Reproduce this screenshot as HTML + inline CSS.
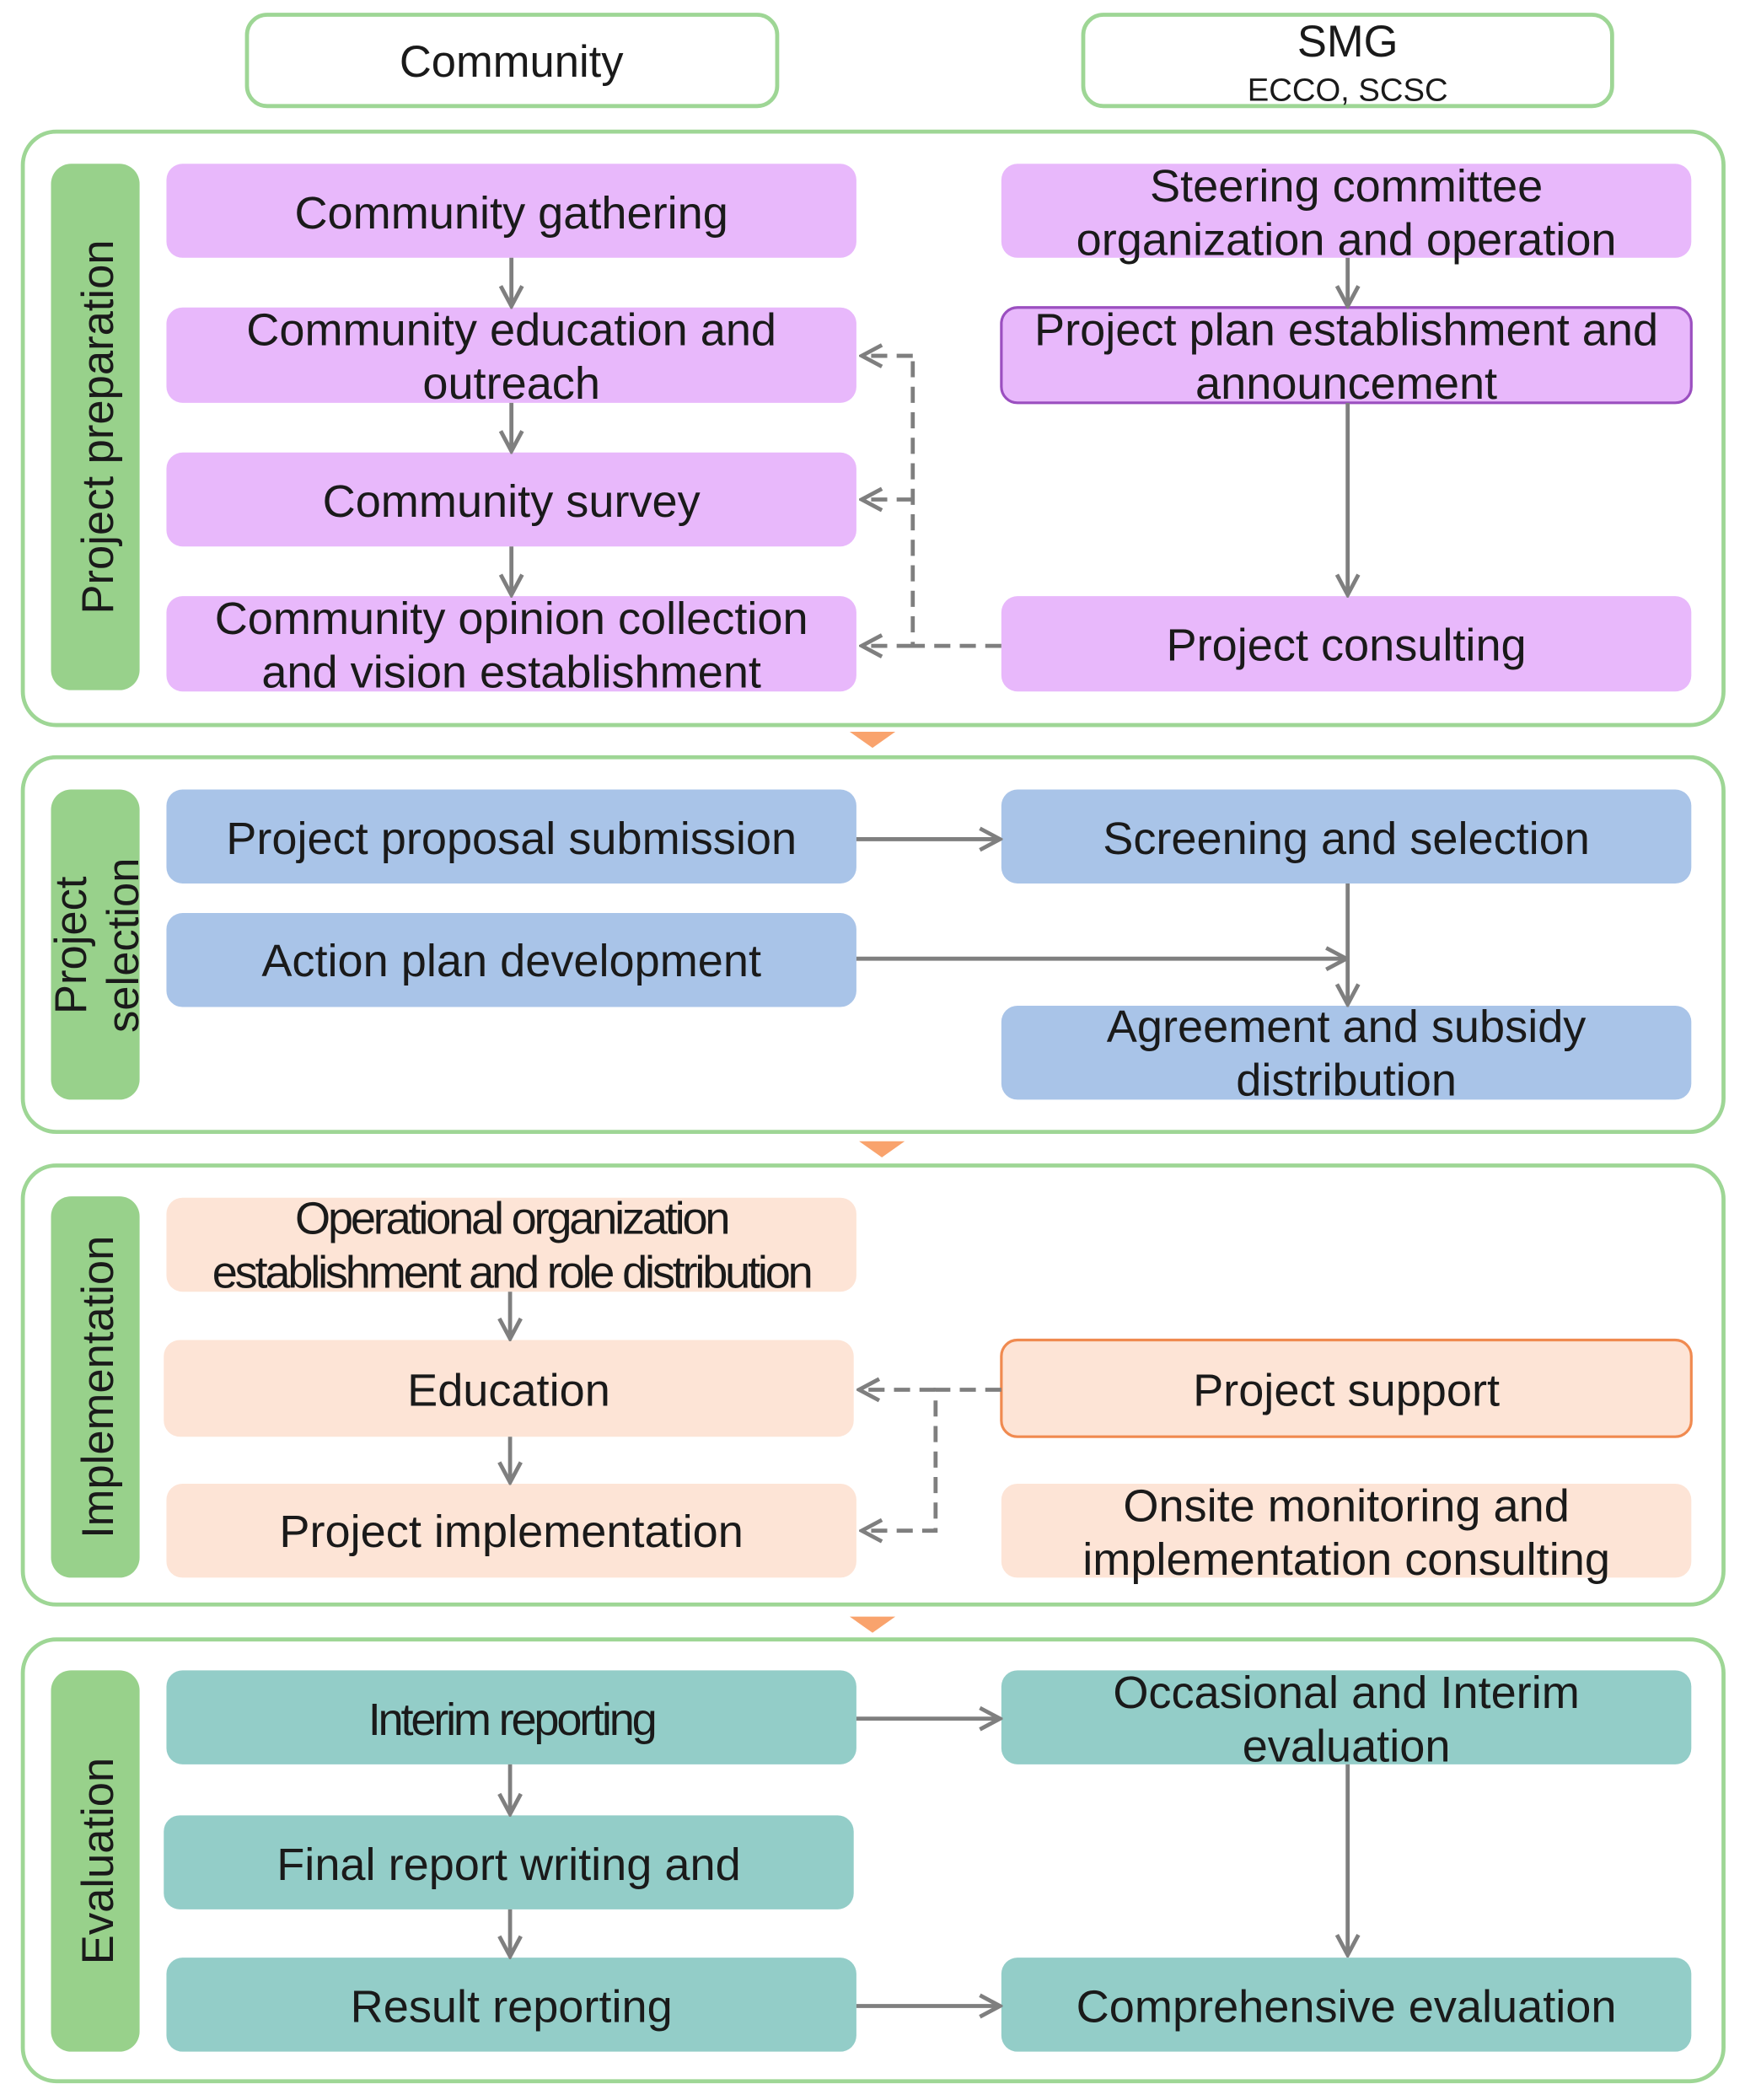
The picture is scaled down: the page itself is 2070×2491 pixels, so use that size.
<!DOCTYPE html>
<html><head><meta charset="utf-8"><style>
html,body{margin:0;padding:0;background:#fff}
svg{display:block}
text{font-family:"Liberation Sans",sans-serif;fill:#1a1a1a;text-anchor:middle}
</style></head><body>
<svg width="2070" height="2491" viewBox="0 0 1300 1564" preserveAspectRatio="none" xmlns="http://www.w3.org/2000/svg">
<defs>
<marker id="a" viewBox="0 0 20 20" refX="18" refY="10" markerWidth="20" markerHeight="20" markerUnits="userSpaceOnUse" orient="auto">
<path d="M3,2 L18,10 L3,18" fill="none" stroke="#7f7f7f" stroke-width="3"/>
</marker>
</defs>
<rect x="184" y="11" width="395" height="68" rx="15" fill="#fff" stroke="#9ed695" stroke-width="3"/>
<text x="381" y="57" font-size="33">Community</text>
<rect x="807" y="11" width="394" height="68" rx="15" fill="#fff" stroke="#9ed695" stroke-width="3"/>
<text x="1004" y="42" font-size="33">SMG</text>
<text x="1004" y="75" font-size="24">ECCO, SCSC</text>

<g fill="#fff" stroke="#9ed695" stroke-width="3">
<rect x="17" y="98" width="1267" height="442" rx="25"/>
<rect x="17" y="564" width="1267" height="279" rx="25"/>
<rect x="17" y="868" width="1267" height="327" rx="25"/>
<rect x="17" y="1221" width="1267" height="329" rx="25"/>
</g>
<g fill="#f9a36d">
<path d="M633,545 L667,545 L650,557Z"/>
<path d="M640,850 L674,850 L657,862Z"/>
<path d="M633,1204 L667,1204 L650,1216Z"/>
</g>
<g fill="#98d18b">
<rect x="38" y="122" width="66" height="392" rx="15"/>
<rect x="38" y="588" width="66" height="231" rx="15"/>
<rect x="38" y="891" width="66" height="284" rx="15"/>
<rect x="38" y="1244" width="66" height="284" rx="15"/>
</g>
<text font-size="33" transform="translate(84,318) rotate(-90)">Project preparation</text>
<text font-size="33" transform="translate(64,704) rotate(-90)">Project</text>
<text font-size="33" transform="translate(103,704) rotate(-90)">selection</text>
<text font-size="33" transform="translate(84,1033) rotate(-90)">Implementation</text>
<text font-size="33" transform="translate(84,1386) rotate(-90)">Evaluation</text>

<g fill="#e8b8fb">
<rect x="124" y="122" width="514" height="70" rx="12"/>
<rect x="124" y="229" width="514" height="71" rx="12"/>
<rect x="124" y="337" width="514" height="70" rx="12"/>
<rect x="124" y="444" width="514" height="71" rx="12"/>
<rect x="746" y="122" width="514" height="70" rx="12"/>
<rect x="746" y="229" width="514" height="71" rx="12" stroke="#9b4fc0" stroke-width="2"/>
<rect x="746" y="444" width="514" height="71" rx="12"/>
</g>
<g fill="#a9c4e8">
<rect x="124" y="588" width="514" height="70" rx="12"/>
<rect x="124" y="680" width="514" height="70" rx="12"/>
<rect x="746" y="588" width="514" height="70" rx="12"/>
<rect x="746" y="749" width="514" height="70" rx="12"/>
</g>
<g fill="#fde4d6">
<rect x="124" y="892" width="514" height="70" rx="12"/>
<rect x="122" y="998" width="514" height="72" rx="12"/>
<rect x="124" y="1105" width="514" height="70" rx="12"/>
<rect x="746" y="998" width="514" height="72" rx="12" stroke="#f08a50" stroke-width="2"/>
<rect x="746" y="1105" width="514" height="70" rx="12"/>
</g>
<g fill="#93cdc8">
<rect x="124" y="1244" width="514" height="70" rx="12"/>
<rect x="122" y="1352" width="514" height="70" rx="12"/>
<rect x="124" y="1458" width="514" height="70" rx="12"/>
<rect x="746" y="1244" width="514" height="70" rx="12"/>
<rect x="746" y="1458" width="514" height="70" rx="12"/>
</g>

<g font-size="34">
<text x="381" y="170">Community gathering</text>
<text x="381" y="257">Community education and</text>
<text x="381" y="297">outreach</text>
<text x="381" y="385">Community survey</text>
<text x="381" y="472">Community opinion collection</text>
<text x="381" y="512">and vision establishment</text>
<text x="1003" y="150">Steering committee</text>
<text x="1003" y="190">organization and operation</text>
<text x="1003" y="257">Project plan establishment and</text>
<text x="1003" y="297">announcement</text>
<text x="1003" y="492">Project consulting</text>
<text x="381" y="636">Project proposal submission</text>
<text x="381" y="727">Action plan development</text>
<text x="1003" y="636">Screening and selection</text>
<text x="1003" y="776">Agreement and subsidy</text>
<text x="1003" y="816">distribution</text>
<text x="381" y="919" letter-spacing="-2">Operational organization</text>
<text x="381" y="959" letter-spacing="-2">establishment and role distribution</text>
<text x="379" y="1047">Education</text>
<text x="381" y="1152">Project implementation</text>
<text x="1003" y="1047">Project support</text>
<text x="1003" y="1133">Onsite monitoring and</text>
<text x="1003" y="1173">implementation consulting</text>
<text x="381" y="1292" letter-spacing="-2">Interim reporting</text>
<text x="379" y="1400">Final report writing and</text>
<text x="381" y="1506">Result reporting</text>
<text x="1003" y="1272">Occasional and Interim</text>
<text x="1003" y="1312">evaluation</text>
<text x="1003" y="1506">Comprehensive evaluation</text>
</g>

<g stroke="#7f7f7f" stroke-width="3" fill="none" marker-end="url(#a)">
<path d="M381,192 V228"/>
<path d="M381,300 V336"/>
<path d="M381,407 V443"/>
<path d="M1004,192 V228"/>
<path d="M1004,300 V443"/>
<path d="M638,625 H745"/>
<path d="M638,714 H1003"/>
<path d="M1004,658 V748"/>
<path d="M380,962 V997"/>
<path d="M380,1070 V1104"/>
<path d="M638,1280 H745"/>
<path d="M380,1314 V1351"/>
<path d="M380,1422 V1457"/>
<path d="M1004,1314 V1456"/>
<path d="M638,1494 H745"/>
</g>
<g stroke="#7f7f7f" stroke-width="3" fill="none" stroke-dasharray="12,7">
<path d="M746,481 H680 V265"/>
<path d="M680,372 H642" marker-end="url(#a)"/>
<path d="M680,265 H642" marker-end="url(#a)"/>
<path d="M680,481 H642" marker-end="url(#a)"/>
<path d="M746,1035 H697 V1140 H642" marker-end="url(#a)"/>
<path d="M697,1035 H640" marker-end="url(#a)"/>
</g>
</svg>
</body></html>
